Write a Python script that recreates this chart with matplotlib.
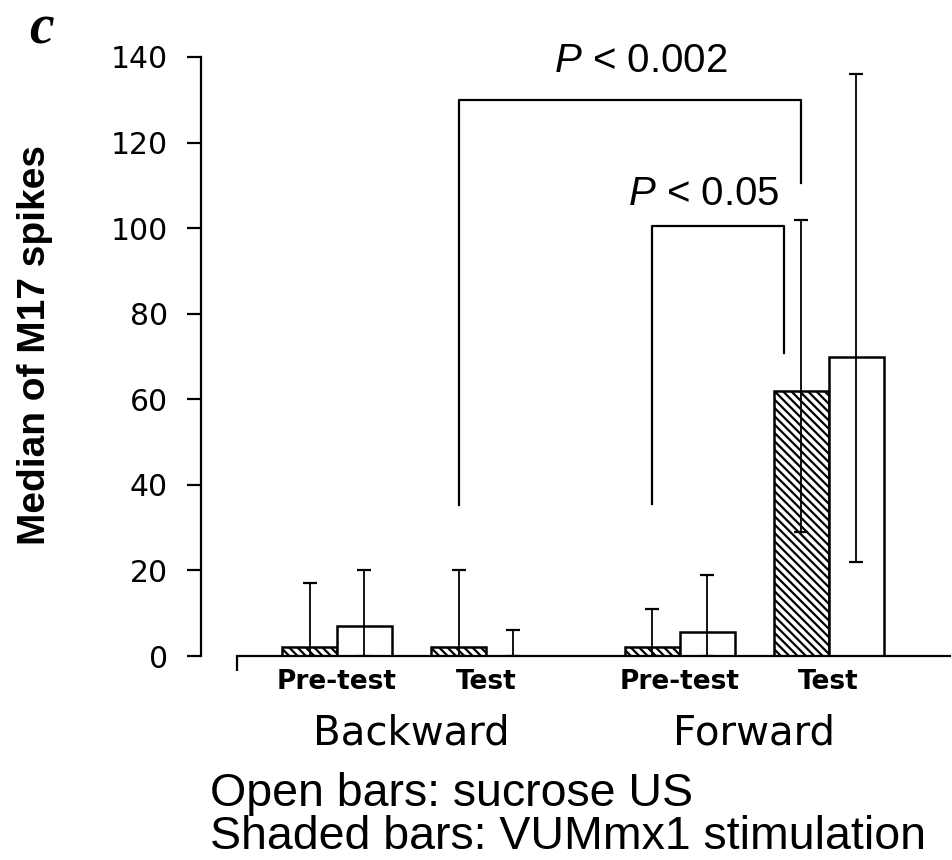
import matplotlib
matplotlib.use("Agg")
import matplotlib.pyplot as plt
import numpy as np

# Data (median M17 spikes, with whisker ends)
groups = ["Pre-test", "Test", "Pre-test", "Test"]
conditions = ["Backward", "Forward"]
group_pos = [0, 1, 2.3, 3.3]

shaded_median = [2, 2, 2, 62]       # VUMmx1 stimulation
shaded_low = [0, 0, 0, 29]
shaded_high = [17, 20, 11, 102]

open_median = [7, 0, 5.5, 70]       # sucrose US
open_low = [0, 0, 0, 22]
open_high = [20, 6, 19, 136]

# Significance brackets: (left bar, right bar) as shaded-bar indices
brackets = ["$\\mathit{P}$ < 0.002", "$\\mathit{P}$ < 0.05"]
bracket_bars = [(1, 3), (2, 3)]
bracket_top = [130, 100.5]
bracket_bottom = [(35.3, 110.5), (35.5, 70.8)]
bracket_shift = [(0, 0), (0, -0.115)]
bracket_text_x = [2.04, 2.46]
bracket_text_y = [136.5, 105.4]

plt.rcParams['mathtext.fontset'] = 'custom'
plt.rcParams['mathtext.it'] = 'Liberation Sans:italic'
plt.rcParams['mathtext.rm'] = 'Liberation Sans'
plt.rcParams['hatch.linewidth'] = 1.6

W, H = 952, 860
fig = plt.figure(figsize=(W / 100, H / 100), dpi=100)
ax = fig.add_axes([201 / W, (H - 656) / H, 749 / W, 599 / H])

bw = 0.369
gp = np.array(group_pos)
xs = gp - bw / 2
xo = gp + bw / 2

ax.bar(xs, shaded_median, width=bw, color='white', edgecolor='black',
       hatch='\\\\\\\\', linewidth=1.8, zorder=2)
ax.bar(xo, open_median, width=bw, color='white', edgecolor='black',
       linewidth=1.8, zorder=2)

sm = np.array(shaded_median)
om = np.array(open_median)
ax.errorbar(xs, sm, yerr=[sm - np.array(shaded_low), np.array(shaded_high) - sm],
            fmt='none', ecolor='black', elinewidth=1.3, capsize=5, capthick=1.6, zorder=3)
ax.errorbar(xo, om, yerr=[om - np.array(open_low), np.array(open_high) - om],
            fmt='none', ecolor='black', elinewidth=1.3, capsize=5, capthick=1.6, zorder=3)

for label, (i, j), top, (b1, b2), (s1, s2), tx, ty in zip(
        brackets, bracket_bars, bracket_top, bracket_bottom, bracket_shift,
        bracket_text_x, bracket_text_y):
    x1 = xs[i] + s1
    x2 = xs[j] + s2
    ax.plot([x1, x1, x2, x2], [b1, top, top, b2], color='black', lw=1.6, zorder=4)
    ax.text(tx, ty, label, ha='center', va='baseline', fontsize=29,
            family='Liberation Sans')

ax.set_xlim((201 - 337) / 149, (950 - 337) / 149)
ax.set_ylim(0, 140)

for s in ['top', 'right']:
    ax.spines[s].set_visible(False)
ax.spines['left'].set_linewidth(1.6)
ax.spines['bottom'].set_linewidth(1.6)
ax.spines['bottom'].set_bounds((237 - 337) / 149, (950 - 337) / 149)

ax.set_yticks(np.arange(0, 141, 20))
ax.tick_params(axis='y', length=10, width=1.6, pad=14, labelsize=21.5)
for t in ax.get_yticklabels():
    t.set_family('DejaVu Sans')
ax.set_xticks([(237 - 337) / 149])
ax.set_xticklabels([''])
ax.tick_params(axis='x', length=11, width=1.6, direction='out')

for x, g in zip(group_pos, groups):
    ax.text(x, -3.0, g, ha='center', va='top', fontsize=19,
            fontweight='bold', family='DejaVu Sans')
for k, c in enumerate(conditions):
    cx = (group_pos[2 * k] + group_pos[2 * k + 1]) / 2
    ax.text(cx, -13.5, c, ha='center', va='top', fontsize=29,
            family='DejaVu Sans')

fig.text(35 / W, 1 - 345 / H, "Median of M17 spikes", rotation=90,
         ha='center', va='center', fontsize=28, fontweight='bold',
         family='Liberation Sans')
fig.text(41 / W, 1 - 30 / H, "c", ha='center', va='center', fontsize=40,
         fontweight='bold', style='italic', family='Liberation Serif')

fig.text(210 / W, (H - 806) / H, "Open bars: sucrose US", ha='left',
         va='baseline', fontsize=33.5, family='Liberation Sans')
fig.text(210 / W, (H - 849) / H, "Shaded bars: VUMmx1 stimulation", ha='left',
         va='baseline', fontsize=33.5, family='Liberation Sans')

fig.savefig("out.png", dpi=100)
